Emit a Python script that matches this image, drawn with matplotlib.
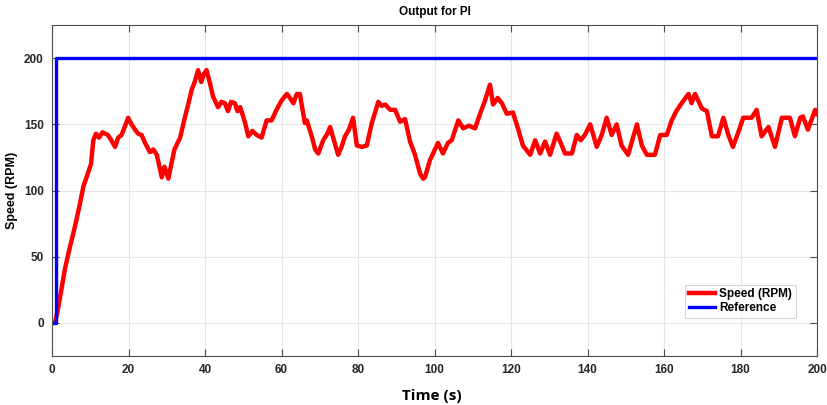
import numpy as np
import matplotlib
matplotlib.use("Agg")
from matplotlib import pyplot as plt

plt.rcParams['font.family'] = ['Liberation Sans', 'DejaVu Sans']

# speed response (time s, speed rpm)
t_speed = [0, 0.8, 1.6, 2.5, 3.4, 4.5, 5.6, 6.4, 7.3, 8.2, 9.5, 10.2, 10.8, 11.5,
           12.3, 13.2, 14.6, 15.5, 16.5, 17.3, 18.2, 19.0, 19.9, 20.8, 21.7, 22.5,
           23.4, 24.5, 25.6, 26.5, 27.4, 28.7, 29.4, 30.0, 30.4, 31.2, 32.0, 33.5,
           34.8, 35.6, 36.5, 37.3, 38.2, 39.0, 39.7, 40.4, 41.3, 42.1, 43.4, 44.3,
           45.2, 46.0, 46.8, 47.8, 48.5, 49.2, 50.5, 51.3, 52.4, 53.5, 54.8, 56.1,
           57.4, 58.7, 60.0, 61.4, 62.2, 63.1, 64.0, 64.8, 66.1, 66.6, 68.0, 68.8,
           69.6, 70.9, 72.0, 72.7, 73.5, 74.8, 75.7, 76.6, 77.6, 78.7, 79.7, 81.0,
           82.3, 83.6, 85.3, 86.2, 87.1, 88.4, 89.7, 91.0, 92.3, 93.6, 94.9, 96.2,
           97.0, 97.5, 98.8, 99.3, 100.9, 102.2, 103.5, 104.5, 106.2, 107.5, 109.0,
           110.6, 111.9, 113.2, 114.5, 115.3, 116.5, 117.6, 118.9, 120.5, 121.8,
           123.1, 125.0, 126.3, 127.6, 128.9, 130.2, 131.9, 133.0, 134.1, 135.9,
           137.2, 138.2, 139.3, 140.7, 142.4, 143.7, 145.0, 146.3, 147.6, 148.9,
           150.6, 152.9, 154.2, 155.5, 157.6, 159.0, 160.7, 162.0, 163.2, 164.6,
           166.4, 167.2, 168.1, 169.9, 171.2, 172.5, 174.1, 175.5, 176.8, 178.0,
           179.4, 180.7, 182.9, 184.2, 185.5, 187.3, 189.0, 190.8, 192.9, 194.2,
           195.6, 196.3, 197.6, 199.5, 200]
speed = [0, 0, 11, 26, 41, 55, 68, 78, 90, 103, 114, 120, 138, 143,
         140, 144, 142, 138, 133, 140, 142, 148, 155, 150, 146, 143,
         142, 135, 129, 131, 127, 110, 118, 113, 109, 120, 131, 140,
         156, 165, 176, 182, 191, 182, 188, 191, 181, 171, 163, 167,
         166, 160, 167, 166, 160, 163, 151, 141, 145, 142, 140, 153,
         153, 161, 168, 173, 170, 166, 173, 173, 151, 153, 140, 131,
         128, 138, 143, 148, 140, 127, 133, 141, 146, 155, 134, 133,
         134, 151, 167, 164, 165, 161, 161, 152, 154, 137, 127, 113,
         109, 110, 123, 126, 136, 128, 136, 138, 153, 147, 149,
         147, 158, 168, 180, 165, 170, 166, 158, 159, 147,
         134, 127, 138, 128, 137, 127, 143, 136, 128, 128,
         142, 138, 142, 150, 133, 142, 155, 142, 150, 134,
         127, 150, 134, 127, 127, 142, 142, 153, 160, 166,
         173, 166, 173, 162, 160, 141, 141, 155, 142, 133,
         144, 155, 155, 161, 141, 148, 133, 155, 155, 141,
         155, 156, 146, 161, 158]

# reference step
t_ref = [0, 1, 1, 200]
ref = [0, 0, 200, 200]

xticks = list(range(0, 201, 20))
yticks = [0, 50, 100, 150, 200]

fig = plt.figure(figsize=(8.28, 4.05), dpi=100)
ax = fig.add_axes([0.0628, 0.121, 0.924, 0.817])

ax.plot(t_speed, speed, color='#ff0000', lw=3.2, label='Speed (RPM)')
ax.plot(t_ref, ref, color='#0000ff', lw=2.4, label='Reference')

ax.set_xlim(0, 200)
ax.set_ylim(-25, 225)
ax.set_xticks(xticks)
ax.set_yticks(yticks)
ax.grid(True, color='#e6e6e6', lw=0.8)
ax.set_axisbelow(True)
ax.tick_params(direction='in', top=True, right=True, length=5, width=0.8,
               color='#4d4d4d', labelsize=8.5, pad=6)
for lbl in ax.get_xticklabels() + ax.get_yticklabels():
    lbl.set_fontweight('bold')
    lbl.set_color('#262626')
for s in ax.spines.values():
    s.set_color('#4d4d4d')
    s.set_linewidth(0.8)

ax.set_title('Output for PI', fontsize=8.5, fontweight='bold', pad=7)
ax.set_ylabel('Speed (RPM)', fontsize=9, fontweight='bold', labelpad=4)
fig.text(0.522, 0.004, 'Time (s)', fontsize=11, fontweight='bold',
         ha='center', va='bottom', family=['Open Sans', 'DejaVu Sans'])

leg = ax.legend(loc='lower right', bbox_to_anchor=(0.98, 0.097), fontsize=8.5,
                frameon=True, fancybox=False, handlelength=2.2,
                borderpad=0.3, labelspacing=0.2, handletextpad=0.4)
leg.get_frame().set_edgecolor('#cccccc')
leg.get_frame().set_linewidth(0.8)
for txt in leg.get_texts():
    txt.set_fontweight('bold')

fig.savefig('out.png', dpi=100)
